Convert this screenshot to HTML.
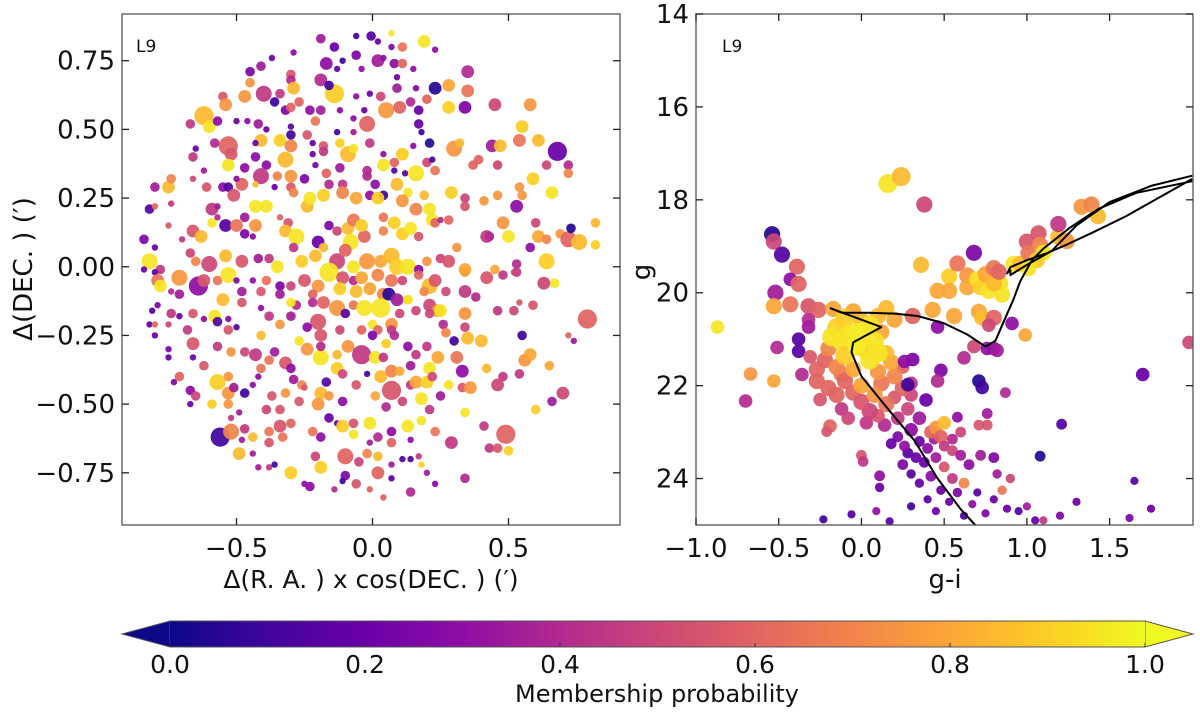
<!DOCTYPE html>
<html><head><meta charset="utf-8"><style>
html,body{margin:0;padding:0;background:#fff;}
svg{display:block;font-family:"DejaVu Sans","Liberation Sans",sans-serif;}
</style></head><body>
<svg id="fig" width="1200" height="713" viewBox="0 0 1200 713" xmlns="http://www.w3.org/2000/svg">
<defs>
<linearGradient id="plasma" x1="0" x2="1" y1="0" y2="0">
<stop offset="0" stop-color="#0d0887"/><stop offset="0.1" stop-color="#41049d"/><stop offset="0.2" stop-color="#6a00a8"/><stop offset="0.3" stop-color="#8f0da4"/><stop offset="0.4" stop-color="#b12a90"/><stop offset="0.5" stop-color="#cc4778"/><stop offset="0.6" stop-color="#e16462"/><stop offset="0.7" stop-color="#f2844b"/><stop offset="0.8" stop-color="#fca636"/><stop offset="0.9" stop-color="#fcce25"/><stop offset="1" stop-color="#f0f921"/>
</linearGradient>
<clipPath id="clipL"><rect x="122" y="14" width="498" height="511"/></clipPath>
<clipPath id="clipR"><rect x="696" y="14" width="497" height="511"/></clipPath>
</defs>
<g id="left"></g>
<g id="right"></g>
<g id="cbar"></g>
</svg>
<script>
const NS="http://www.w3.org/2000/svg";
const plasmaStops=["#0d0887","#41049d","#6a00a8","#8f0da4","#b12a90","#cc4778","#e16462","#f2844b","#fca636","#fcce25","#f0f921"];
function hex(c){return [parseInt(c.slice(1,3),16),parseInt(c.slice(3,5),16),parseInt(c.slice(5,7),16)];}
function cmap(p){p=Math.max(0,Math.min(1,p));const t=p*10,i=Math.min(9,Math.floor(t)),f=t-i;const a=hex(plasmaStops[i]),b=hex(plasmaStops[i+1]);return "rgb("+a.map((v,k)=>Math.round(v+(b[k]-v)*f)).join(",")+")";}
function mk(tag,attrs,parent){const e=document.createElementNS(NS,tag);for(const k in attrs)e.setAttribute(k,attrs[k]);parent.appendChild(e);return e;}

// ---------- data: left panel [dRA, dDEC, prob, size] ----------
const leftPts=[
[-0.06,0.84,.1,2],[-0.005,0.84,.15,3],[-0.19,0.83,.35,3],[0.02,0.82,.2,2],[0.07,0.85,.95,2],[0.19,0.82,.95,4],[-0.14,0.8,.2,3],[0.11,0.8,.65,3],[0.07,0.8,.25,2],[0.23,0.79,.3,2],
[-0.37,0.76,.2,2],[-0.29,0.78,.3,2],[-0.17,0.74,.3,4],[-0.11,0.75,.1,2],[-0.06,0.77,.25,3],[0.02,0.75,.35,4],[0.04,0.76,.3,2],[0.08,0.74,.3,3],[0.11,0.74,.6,3],[0.15,0.72,.3,2],[0.35,0.71,.4,4],[-0.45,0.71,.25,3],[-0.41,0.73,.35,3],[-0.13,0.72,.2,2],[-0.04,0.72,.3,2],
[-0.3,0.7,.55,3],[-0.3,0.68,.4,3],[-0.45,0.67,.75,3],[-0.4,0.63,.45,5],[-0.34,0.63,.45,3],[-0.29,0.65,.85,4],[-0.19,0.68,.4,4],[-0.14,0.63,.9,6],[-0.16,0.66,.1,3],[0.09,0.69,.2,2],[0.09,0.65,.35,3],[0.16,0.65,.25,2],[0.23,0.65,.05,4],[0.28,0.66,.8,4],[0.35,0.64,.65,4],[-0.47,0.62,.75,4],[0.03,0.62,.5,3],[-0.01,0.63,.2,2],[-0.06,0.62,.3,2],
[-0.55,0.62,.55,3],[-0.54,0.59,.75,4],[-0.36,0.6,.1,3],[-0.32,0.57,.25,3],[-0.3,0.58,.6,3],[-0.27,0.6,.6,3],[-0.23,0.57,.3,3],[-0.19,0.57,.35,3],[-0.12,0.57,.3,2],[-0.03,0.57,.2,2],[0.05,0.57,.75,5],[0.1,0.58,.6,4],[0.14,0.6,.4,3],[0.17,0.57,.2,3],[0.2,0.61,.6,3],[0.28,0.58,.9,4],[0.34,0.58,.25,4],[0.45,0.59,.5,4],[0.58,0.59,.75,4],[-0.62,0.55,.85,6],[-0.6,0.51,.95,4],
[-0.57,0.53,.3,3],[-0.5,0.53,.2,2],[-0.46,0.53,.3,2],[-0.42,0.52,.35,3],[-0.67,0.52,.45,3],[-0.21,0.53,.65,3],[-0.07,0.54,.3,2],[-0.02,0.52,.6,5],[0.17,0.52,.2,3],[0.18,0.49,.1,2],[-0.3,0.51,.15,2],[-0.39,0.5,.2,2],[-0.24,0.48,.55,3],[-0.3,0.48,.1,3],[-0.13,0.49,.1,2],[-0.07,0.49,.35,2],[0.55,0.51,.9,4],[0.54,0.46,.65,4],[0.61,0.46,.85,4],[0.68,0.42,.2,6],[-0.41,0.46,.85,4],[-0.34,0.46,.9,4],[-0.53,0.44,.6,6],[-0.58,0.45,.4,3],[-0.43,0.45,.2,2],[-0.3,0.44,.7,4],[-0.22,0.45,.2,2],[-0.18,0.44,.55,3],[-0.12,0.45,.9,3],[-0.01,0.45,.45,3],[0.15,0.44,.3,2],[0.21,0.45,.05,3],[0.3,0.43,.75,5],[0.32,0.45,.85,3],[0.44,0.44,.35,4],[0.47,0.44,.85,4],
[-0.65,0.43,.2,2],[-0.52,0.41,.55,4],[-0.43,0.4,.3,3],[-0.32,0.39,.85,5],[-0.22,0.41,.2,2],[-0.18,0.42,.45,3],[-0.09,0.41,.85,5],[-0.07,0.43,.95,3],[0.04,0.41,.3,2],[0.11,0.41,.9,4],[0.08,0.38,.6,3],[0.04,0.37,.95,4],[0.2,0.38,.5,3],[0.22,0.39,.1,2],[0.37,0.37,.6,3],[0.39,0.39,.6,3],[0.46,0.37,.5,3],[0.64,0.37,.5,3],[0.72,0.37,.4,3],[0.72,0.34,.7,3],[-0.66,0.4,.45,3],[-0.53,0.37,.95,4],[-0.62,0.35,.35,2],[-0.47,0.36,.3,3],[-0.39,0.37,.3,3],[-0.21,0.37,.25,2],[-0.17,0.34,.6,3],[-0.12,0.36,.35,3],[-0.02,0.35,.4,3],[0.08,0.35,.15,2],[0.12,0.34,.15,2],[0.16,0.34,.95,5],[0.23,0.35,.65,3],[-0.41,0.33,.45,5],[-0.35,0.33,.7,3],[-0.3,0.33,.75,4],[-0.25,0.32,.25,3],
[-0.8,0.29,.35,3],[-0.75,0.29,.85,4],[-0.74,0.32,.7,3],[-0.66,0.32,.5,2],[-0.61,0.29,.55,3],[-0.55,0.29,.3,3],[-0.53,0.29,.15,3],[-0.48,0.3,.6,4],[-0.5,0.32,.3,2],[-0.43,0.3,.85,2],[-0.36,0.29,.2,2],[-0.3,0.29,.55,3],[-0.16,0.3,.4,3],[-0.11,0.3,.45,3],[-0.02,0.33,.4,3],[0.01,0.3,.3,3],[0.09,0.3,.85,4],[0.04,0.26,.1,3],[0.13,0.27,.95,3],[0.19,0.26,.85,3],[0.29,0.27,.9,4],[0.34,0.25,.5,3],[0.41,0.24,.75,3],[0.46,0.26,.75,3],[0.54,0.29,.75,3],[0.55,0.26,.75,3],[0.59,0.32,.9,4],[0.66,0.27,.95,4],[0.53,0.22,.3,4],[-0.82,0.21,.15,3],[-0.8,0.22,.6,2],[-0.74,0.23,.45,2],[-0.59,0.21,.45,4],[-0.51,0.26,.55,4],[-0.43,0.22,.95,4],[-0.39,0.22,.95,4],[-0.29,0.27,.7,3],[-0.24,0.22,.85,4],[-0.23,0.25,.95,4],[-0.18,0.26,.9,4],[-0.11,0.27,.7,4],[-0.06,0.25,.8,4],[-0.01,0.26,.3,3],[0.02,0.25,.9,4],[0.11,0.24,.75,4],[0.16,0.21,.7,4],[0.21,0.21,.95,4],
[-0.57,0.22,.35,2],[-0.75,0.15,.55,2],[-0.7,0.1,.45,2],[-0.66,0.13,.55,4],[-0.63,0.11,.85,4],[-0.59,0.16,.95,3],[-0.57,0.18,.4,2],[-0.54,0.15,.15,4],[-0.5,0.15,.65,4],[-0.47,0.18,.35,3],[-0.47,0.12,.25,3],[-0.43,0.15,.75,4],[-0.44,0.11,.3,2],[-0.34,0.18,.6,2],[-0.31,0.16,.55,3],[-0.32,0.13,.85,4],[-0.28,0.11,.95,5],[-0.2,0.09,.2,4],[-0.16,0.15,.25,3],[-0.13,0.13,.5,3],[-0.09,0.14,.85,4],[-0.07,0.17,.65,4],[-0.08,0.09,.95,5],[-0.03,0.11,.6,4],[-0.04,0.15,.9,4],[0.04,0.18,.65,3],[0.04,0.13,.7,3],[0.08,0.16,.9,4],[0.11,0.12,.9,4],[0.14,0.14,.95,4],[0.17,0.11,.55,3],[0.22,0.17,.95,4],[0.23,0.16,.6,3],[0.25,0.17,.4,2],[0.28,0.17,.6,3],[0.34,0.22,.55,3],[0.42,0.11,.45,4],[0.48,0.16,.75,4],[0.5,0.11,.95,4],[0.6,0.16,.5,3],[0.61,0.11,.8,4],[0.64,0.1,.7,3],[0.69,0.12,.75,3],[0.72,0.1,.6,5],[0.76,0.09,.85,5],[0.73,0.14,.05,3],[0.82,0.16,.85,3],[0.82,0.08,.9,3],
[-0.84,0.1,.25,3],[-0.8,0.07,.2,2],[-0.82,0.02,.95,5],[-0.78,-0.01,.45,3],[-0.67,0.05,.5,3],[-0.65,0.02,.7,3],[-0.6,0.01,.5,5],[-0.54,0.04,.85,4],[-0.48,0.02,.55,4],[-0.42,0.03,.35,3],[-0.38,0.03,.45,3],[-0.35,0.0,.95,4],[-0.29,0.07,.45,3],[-0.26,0.02,.9,4],[-0.21,0.04,.85,4],[-0.18,0.07,.85,3],[-0.13,0.02,.5,5],[-0.1,0.06,.6,4],[-0.07,0.0,.95,4],[-0.02,0.02,.75,5],[0.03,0.02,.8,4],[0.07,0.04,.85,5],[0.09,0.0,.9,5],[0.13,0.0,.95,5],[0.17,-0.01,.3,3],[0.2,0.02,.75,3],[0.25,0.03,.5,3],[0.28,0.02,.55,4],[0.31,0.07,.75,3],[0.34,-0.02,.75,3],[0.45,-0.01,.8,3],[0.42,-0.04,.55,4],[0.48,-0.03,.45,3],[0.53,0.01,.4,3],[0.64,0.02,.9,5],[0.53,-0.02,.45,3],[0.67,-0.06,.95,3],[0.63,-0.06,.5,4],[0.58,0.07,.3,3],[0.43,0.11,.4,3],
[-0.84,-0.01,.2,2],[-0.8,-0.02,.15,2],[-0.79,-0.05,.65,4],[-0.78,-0.07,.95,4],[-0.71,-0.04,.75,5],[-0.74,-0.09,.4,2],[-0.64,-0.07,.3,6],[-0.62,-0.05,.55,4],[-0.57,-0.05,.65,3],[-0.53,-0.03,.95,5],[-0.5,-0.05,.25,2],[-0.44,-0.05,.3,2],[-0.39,-0.05,.65,3],[-0.34,-0.07,.25,3],[-0.3,-0.07,.5,3],[-0.25,-0.05,.55,4],[-0.2,-0.07,.75,4],[-0.16,-0.02,.95,6],[-0.11,-0.04,.55,4],[-0.07,-0.05,.4,3],[-0.04,-0.04,.8,4],[0.02,-0.03,.7,4],[0.07,-0.05,.65,4],[0.11,-0.05,.5,3],[0.17,-0.03,.6,3],[0.21,-0.07,.85,5],[0.23,-0.05,.55,4],[0.27,-0.09,.5,3],[0.34,-0.01,.8,4],[0.34,-0.09,.45,4],[0.38,-0.11,.4,3],[0.52,-0.02,.5,2],[-0.71,-0.1,.35,3],[-0.55,-0.12,.85,4],[-0.48,-0.09,.35,3],[-0.41,-0.09,.55,3],[-0.34,-0.1,.35,3],[-0.22,-0.1,.6,3],[-0.12,-0.08,.9,4],[-0.06,-0.09,.85,4],[-0.01,-0.08,.8,4],[0.04,-0.1,.7,4],[0.06,-0.1,.05,4],[0.09,-0.12,.35,4],[0.13,-0.12,.8,3],[0.19,-0.09,.7,3],
[-0.81,-0.16,.15,2],[-0.79,-0.14,.25,2],[-0.82,-0.21,.15,2],[-0.8,-0.21,.6,2],[-0.75,-0.21,.5,2],[-0.74,-0.17,.45,3],[-0.71,-0.18,.2,2],[-0.68,-0.23,.45,3],[-0.66,-0.17,.55,3],[-0.62,-0.19,.3,2],[-0.58,-0.18,.95,4],[-0.57,-0.2,.15,3],[-0.53,-0.19,.3,2],[-0.5,-0.22,.15,2],[-0.53,-0.23,.55,3],[-0.48,-0.13,.55,3],[-0.41,-0.15,.3,2],[-0.41,-0.25,.85,3],[-0.38,-0.18,.45,3],[-0.34,-0.21,.75,3],[-0.3,-0.18,.35,3],[-0.28,-0.14,.4,3],[-0.3,-0.13,.95,3],[-0.22,-0.13,.4,3],[-0.2,-0.2,.55,5],[-0.18,-0.13,.6,4],[-0.13,-0.15,.75,5],[-0.1,-0.17,.15,3],[-0.07,-0.14,.65,3],[-0.03,-0.15,.95,5],[0.03,-0.15,.95,6],[0.0,-0.21,.95,3],[0.07,-0.21,.75,4],[0.1,-0.17,.5,3],[0.13,-0.12,.95,3],[0.16,-0.16,.5,3],[0.21,-0.14,.5,4],[0.24,-0.16,.75,4],[0.25,-0.16,.95,4],[0.21,-0.17,.5,3],[0.26,-0.21,.4,3],[0.27,-0.24,.7,3],[0.34,-0.17,.75,4],[0.34,-0.22,.5,3],[0.46,-0.16,.45,3],[0.52,-0.16,.5,3],[0.54,-0.13,.55,2],[0.59,-0.14,.55,3],[0.79,-0.19,.6,6],[0.72,-0.25,.6,2],[0.74,-0.27,.35,2],[0.55,-0.25,.1,3],[0.07,-0.23,.45,3],[0.08,-0.25,.4,3],[0.02,-0.23,.6,3],[-0.04,-0.23,.6,3],[0.0,-0.25,.25,3],[-0.12,-0.23,.5,3],[-0.19,-0.25,.55,4],[-0.27,-0.27,.95,3],[-0.24,-0.22,.3,3],
[-0.8,-0.25,.2,2],[-0.75,-0.3,.25,2],[-0.75,-0.33,.2,2],[-0.66,-0.28,.55,4],[-0.66,-0.33,.2,2],[-0.62,-0.36,.55,3],[-0.57,-0.29,.45,3],[-0.52,-0.31,.75,3],[-0.47,-0.31,.5,3],[-0.43,-0.32,.45,4],[-0.41,-0.37,.65,3],[-0.38,-0.34,.65,3],[-0.36,-0.31,.35,3],[-0.32,-0.35,.55,4],[-0.3,-0.37,.3,3],[-0.24,-0.3,.75,4],[-0.19,-0.33,.95,5],[-0.19,-0.29,.4,3],[-0.13,-0.32,.85,3],[-0.09,-0.29,.75,4],[-0.04,-0.32,.45,6],[0.01,-0.33,.95,4],[0.04,-0.33,.45,3],[0.05,-0.28,.9,3],[0.13,-0.29,.3,3],[0.16,-0.32,.45,3],[0.2,-0.29,.45,3],[0.21,-0.37,.95,4],[0.24,-0.33,.8,4],[0.3,-0.27,.1,3],[0.31,-0.33,.65,4],[0.33,-0.38,.3,4],[0.35,-0.26,.85,4],[0.4,-0.27,.85,4],[0.42,-0.37,.85,3],[0.56,-0.34,.75,4],[0.58,-0.32,.8,4],[0.65,-0.36,.8,3],[0.48,-0.4,.45,3],[0.54,-0.39,.45,3],[-0.13,-0.37,.9,4],[-0.11,-0.39,.5,3],[-0.02,-0.39,.1,2],[0.03,-0.4,.85,4],[0.07,-0.38,.7,4],[0.1,-0.38,.8,3],[0.14,-0.36,.35,3],
[-0.71,-0.4,.6,3],[-0.73,-0.42,.25,2],[-0.67,-0.45,.3,3],[-0.65,-0.47,.5,3],[-0.57,-0.42,.9,5],[-0.53,-0.4,.75,3],[-0.53,-0.46,.75,4],[-0.51,-0.44,.35,3],[-0.47,-0.46,.1,3],[-0.44,-0.43,.3,2],[-0.42,-0.4,.3,2],[-0.37,-0.47,.55,3],[-0.32,-0.46,.75,3],[-0.29,-0.41,.35,3],[-0.26,-0.43,.7,3],[-0.25,-0.44,.55,2],[-0.19,-0.46,.85,4],[-0.17,-0.42,.15,3],[-0.16,-0.47,.75,3],[-0.06,-0.43,.55,3],[0.01,-0.47,.8,3],[0.07,-0.45,.55,6],[0.14,-0.43,.45,3],[0.16,-0.42,.8,4],[0.2,-0.42,.9,4],[0.22,-0.4,.5,3],[0.18,-0.48,.95,4],[0.25,-0.47,.35,3],[0.28,-0.43,.95,3],[0.33,-0.44,.55,3],[0.36,-0.44,.75,4],[0.46,-0.43,.5,4],[0.7,-0.46,.5,4],[0.66,-0.49,.35,3],[0.6,-0.52,.9,3],[0.34,-0.53,.95,3],[0.21,-0.52,.45,3],[0.11,-0.49,.5,3],[0.05,-0.51,.4,3],[-0.11,-0.49,.3,3],[-0.2,-0.5,.75,4],[-0.27,-0.49,.55,3],[-0.59,-0.5,.9,3],[-0.53,-0.5,.75,3],[-0.39,-0.52,.5,3],[-0.34,-0.52,.55,3],[-0.49,-0.53,.35,2],[-0.67,-0.5,.2,2],
[-0.56,-0.62,.1,6],[-0.52,-0.6,.7,5],[-0.52,-0.55,.45,2],[-0.47,-0.59,.45,3],[-0.48,-0.63,.35,2],[-0.44,-0.62,.85,3],[-0.38,-0.64,.55,3],[-0.38,-0.6,.65,3],[-0.34,-0.58,.55,4],[-0.33,-0.62,.65,3],[-0.3,-0.57,.6,3],[-0.22,-0.6,.65,3],[-0.19,-0.62,.3,3],[-0.16,-0.55,.2,3],[-0.13,-0.57,.2,2],[-0.11,-0.58,.9,4],[-0.07,-0.57,.55,3],[-0.07,-0.61,.95,3],[-0.01,-0.57,.95,4],[0.07,-0.6,.3,3],[0.07,-0.64,.6,3],[0.13,-0.58,.95,4],[0.14,-0.63,.3,2],[0.18,-0.56,.95,3],[0.23,-0.6,.65,3],[0.29,-0.64,.45,4],[0.41,-0.58,.45,3],[0.49,-0.61,.6,6],[0.43,-0.66,.45,3],[0.46,-0.66,.55,3],[0.5,-0.67,.9,3],[0.02,-0.62,.4,3],[-0.01,-0.64,.35,2],[-0.02,-0.68,.7,3],
[-0.49,-0.68,.85,4],[-0.44,-0.68,.35,2],[-0.42,-0.73,.35,2],[-0.38,-0.73,.45,2],[-0.36,-0.72,.1,2],[-0.3,-0.75,.9,4],[-0.21,-0.69,.5,3],[-0.19,-0.73,.9,4],[-0.1,-0.69,.6,5],[-0.05,-0.71,.5,3],[-0.1,-0.76,.25,3],[-0.06,-0.79,.55,3],[0.02,-0.75,.6,4],[0.02,-0.69,.85,3],[0.07,-0.72,.35,2],[0.07,-0.77,.15,2],[0.11,-0.7,.15,2],[0.14,-0.7,.15,2],[0.17,-0.69,.45,2],[0.18,-0.72,.9,2],[0.2,-0.75,.35,2],[0.23,-0.79,.3,2],[0.34,-0.77,.4,3],[-0.25,-0.79,.3,2],[-0.23,-0.8,.3,3],[-0.14,-0.81,.4,2],[-0.01,-0.81,.6,2],[0.04,-0.84,.6,2],[0.14,-0.82,.4,3],[-0.11,-0.78,.1,2]
];
const leftXTicks=[-0.5,0.0,0.5];
const leftXTickLabels=["\u22120.5","0.0","0.5"];
const leftYTicks=[0.75,0.5,0.25,0,-0.25,-0.5,-0.75];
const leftYTickLabels=["0.75","0.50","0.25","0.00","\u22120.25","\u22120.50","\u22120.75"];

// ---------- data: right panel [g-i, g, prob, size] ----------
const rightPts=[
[0.16,17.65,.95,7],[0.24,17.5,.85,7],[0.38,18.1,.5,6],[-0.54,18.74,.05,6],[-0.53,18.9,.5,6],[-0.48,19.18,.15,6],[-0.39,19.44,.6,6],[-0.43,19.71,.3,5],[-0.38,19.81,.6,6],[-0.52,20.0,.35,6],[-0.53,20.29,.8,6],[-0.43,20.25,.65,6],[-0.87,20.74,.95,5],[-0.51,21.18,.4,5],[-0.38,21.0,.15,5],[-0.38,21.26,.15,5],[-0.36,21.76,.4,5],[-0.67,21.75,.75,5],[-0.53,21.9,.8,5],[-0.70,22.33,.4,5],[-0.32,20.29,.55,6],[-0.26,20.37,.6,6],[-0.32,20.58,.4,5],[-0.32,20.74,.35,5],[-0.31,21.38,.55,5],[-0.27,21.65,.6,6],[-0.27,21.9,.6,6],[-0.19,22.87,.6,5],[-0.21,22.99,.55,4],[0.0,23.5,.55,4],[0.01,23.63,.45,4],[0.11,23.94,.3,4],[0.11,24.19,.2,3.5],[-0.06,24.77,.15,3],[-0.23,24.88,.1,3],[0.17,24.92,.15,3],[0.09,24.7,.3,3],
[0.28,23.45,.15,4],[0.35,23.2,.2,4],[0.4,23.35,.3,4],[0.3,23.9,.15,3.5],[0.38,23.65,.2,4],[0.35,24.1,.2,3.5],[0.48,24.25,.2,3.5],[0.58,24.3,.25,3.5],[0.7,24.3,.15,3],[0.4,24.45,.15,3],[0.53,24.5,.2,3],[0.67,24.55,.3,3],[0.8,24.45,.2,3],[0.3,24.6,.1,3],[0.45,24.7,.2,3],[0.62,24.8,.15,3],[0.75,24.75,.25,3],[0.88,24.65,.2,3],[0.95,24.7,.15,3],[1.0,24.6,.35,3],[1.05,24.9,.2,3],[1.2,24.8,.25,3],[1.3,24.5,.2,3],[1.65,24.05,.15,3],[1.75,24.65,.2,3],[1.62,24.85,.25,3],[1.1,24.9,.45,3],[0.85,24.25,.65,3.5],[0.82,23.9,.35,3.5],[0.9,24.0,.5,3.5],[0.8,23.55,.25,4],[0.72,23.5,.35,4],
[0.22,23.1,.25,4],[0.18,23.25,.2,4],[0.26,23.3,.3,4],[0.33,23.55,.2,4],[0.25,23.7,.25,4],[0.44,23.15,.35,4],[0.55,23.15,.4,4],[0.6,23.0,.5,4],
[-0.25,22.3,.55,5],[-0.2,22.05,.6,6],[-0.12,22.5,.45,5],[0.2,22.25,.55,5],[0.3,22.2,.5,5],[0.28,22.5,.5,5],[0.22,22.7,.45,5],[0.35,22.7,.35,5],[0.14,22.85,.4,5],[0.3,22.95,.3,5],[0.42,23.0,.6,5],[0.45,22.9,.75,5],[0.5,22.8,.85,5],[0.48,23.1,.6,5],[0.5,23.3,.45,4],[0.55,23.4,.5,4],[0.45,23.55,.35,4],[0.6,23.5,.35,4],[0.5,23.75,.55,4],[0.65,23.7,.3,4],[0.42,23.95,.3,4],[0.55,24.0,.45,4],[0.62,24.1,.7,4],
[-0.08,22.7,.5,5],[0.03,22.8,.45,5],[0.1,22.65,.55,5],[-0.15,22.2,.6,6],[0.25,21.6,.6,5],[0.3,21.95,.45,5],[-0.22,21.45,.6,6],[-0.12,21.75,.65,6],
[0.05,22.55,.5,6],[0.25,22.05,.6,6],[0.12,21.95,.65,6],[-0.05,22.15,.6,6],[0.0,22.35,.55,6],[0.15,22.4,.65,6],[0.08,22.2,.75,6],[-0.1,21.9,.6,6],[0.2,21.8,.7,6],[0.1,21.7,.75,6],[0.0,22.0,.8,6],[-0.15,21.6,.7,6],[-0.05,21.65,.8,6],[0.18,21.5,.8,6],[-0.2,21.2,.7,6],[0.15,21.3,.85,6],[-0.17,20.35,.8,6],[-0.05,20.4,.8,6],[0.1,20.5,.85,6],[0.12,20.85,.8,6],[0.0,20.6,.85,6],[-0.1,20.55,.9,7],[-0.15,20.75,.9,7],[-0.08,20.9,.95,7],[0.05,20.7,.95,7],[-0.12,21.05,.95,7],[0.02,21.2,.9,7],[0.08,21.05,.95,7],[-0.1,21.35,.9,7],[0.05,21.45,.95,7],[-0.03,21.15,.97,7],[-0.18,20.95,.95,7],[0.1,21.3,.95,7],[-0.02,20.85,.97,7],
[0.15,20.33,.85,6],[0.2,20.58,.8,6],[0.31,20.5,.6,6],[0.43,20.37,.8,6],[0.46,20.74,.3,5],[0.36,19.4,.85,6],[0.53,19.65,.9,6],[0.58,19.37,.65,6],[0.46,19.96,.8,6],[0.53,19.96,.8,6],[0.56,20.5,.8,6],[0.64,19.63,.75,6],[0.64,19.88,.8,6],[0.7,19.71,.95,6],[0.72,19.88,.9,6],[0.75,19.6,.8,6],[0.77,19.96,.95,6],[0.8,19.47,.65,6],[0.84,19.8,.95,6],[0.85,20.04,.95,6],[0.8,19.8,.85,6],[0.71,20.41,.8,6],[0.73,20.54,.85,6],[0.8,20.54,.6,6],[0.77,20.7,.5,5],[0.91,20.66,.3,5],[0.68,19.14,.25,6],[0.83,19.55,.6,6],[0.99,20.91,.8,5],[0.62,21.4,.4,5],[0.68,21.16,.5,5],[0.76,21.2,.3,5],[0.8,21.2,.3,5],[0.82,21.24,.35,5],[0.92,19.38,.95,6],[0.96,19.38,.85,6],[1.0,18.9,.55,6],[1.01,19.14,.65,6],[1.07,18.72,.55,6],[1.08,18.97,.7,6],[1.1,19.14,.95,6],[1.06,19.3,.9,6],[1.01,19.47,.95,6],[1.19,18.8,.85,6],[1.19,18.52,.45,6],[1.24,18.89,.75,6],[1.33,18.15,.75,6],[1.39,18.1,.7,6],[1.43,18.35,.85,6],[1.98,21.07,.5,5],[1.7,21.76,.2,5],[1.21,22.83,.15,4],[1.08,23.52,.05,4],
[0.71,21.9,.05,5],[0.73,22.04,.1,5],[0.87,22.15,.4,4],[0.48,21.67,.25,5],[0.46,21.9,.4,5],[0.28,21.98,.1,5],[0.31,21.44,.25,5],[0.26,21.48,.3,5],[0.39,22.31,.2,5],[0.58,22.68,.3,4],[0.76,22.6,.35,4],[0.71,22.85,.55,4],[0.76,22.85,.55,4]
];
const rgbLine=[[-0.19,20.33],[-0.12,20.43],[0.04,20.43],[0.2,20.45],[0.34,20.5],[0.5,20.66],[0.64,20.9],[0.75,21.16],[0.81,21.03],[0.87,20.54],[0.92,20.13],[0.96,19.75],[1.03,19.3],[1.1,19.05],[1.26,18.6],[1.43,18.2],[1.66,17.85],[2.0,17.6]];
const msLine=[[-0.19,20.33],[0.12,20.74],[-0.05,21.07],[-0.06,21.28],[0.0,21.8],[0.16,22.5],[0.32,23.18],[0.46,24.0],[0.6,24.66],[0.7,25.05]];
const agbLine=[[0.88,19.6],[0.9,19.45],[1.0,19.3],[1.12,19.15],[1.25,18.95],[1.4,18.7],[1.6,18.35],[1.8,17.95],[2.0,17.55]];
const hbLine=[[0.9,19.5],[0.9,19.62],[1.0,19.4],[1.15,19.1],[1.3,18.55],[1.5,18.05],[1.75,17.7],[2.0,17.48]];
const rightXTicks=[-1.0,-0.5,0.0,0.5,1.0,1.5];
const rightXTickLabels=["\u22121.0","\u22120.5","0.0","0.5","1.0","1.5"];
const rightYTicks=[14,16,18,20,22,24];
const rightYTickLabels=["14","16","18","20","22","24"];
const cbarTicks=[0,0.2,0.4,0.6,0.8,1.0];
const cbarTickLabels=["0.0","0.2","0.4","0.6","0.8","1.0"];

// ---------- axes ----------
const L={x0:122,x1:620,y0:14,y1:525,xmin:-0.921,xmax:0.91,ymin:-0.94,ymax:0.92};
const R={x0:696,x1:1193,y0:14,y1:525,xmin:-1.0,xmax:2.004,ymin:25,ymax:14};
function sx(A,v){return A.x0+(v-A.xmin)/(A.xmax-A.xmin)*(A.x1-A.x0);}
function sy(A,v){return A.y1-(v-A.ymin)/(A.ymax-A.ymin)*(A.y1-A.y0);}

function drawAxes(A,g,xt,xl,yt,yl,name){
  const frame=mk('rect',{x:A.x0,y:A.y0,width:A.x1-A.x0,height:A.y1-A.y0,fill:'none',stroke:'#555','stroke-width':1.3},g);
  
  
  xt.forEach((v,i)=>{const x=sx(A,v);
    mk('line',{x1:x,x2:x,y1:A.y1,y2:A.y1-7,stroke:'#222','stroke-width':1.3},g);
    mk('line',{x1:x,x2:x,y1:A.y0,y2:A.y0+7,stroke:'#222','stroke-width':1.3},g);
    const t=mk('text',{x:x,y:557,'text-anchor':'middle','font-size':26,fill:'#111'},g);t.textContent=xl[i];
    
    });
  yt.forEach((v,i)=>{const y=sy(A,v);
    mk('line',{x1:A.x0,x2:A.x0+7,y1:y,y2:y,stroke:'#222','stroke-width':1.3},g);
    mk('line',{x1:A.x1,x2:A.x1-7,y1:y,y2:y,stroke:'#222','stroke-width':1.3},g);
    const t=mk('text',{x:A.x0-7,y:y+9,'text-anchor':'end','font-size':26,fill:'#111'},g);t.textContent=yl[i];
    
    });
}
function drawPts(A,g,pts,scale,clip,name){
  const pg=mk('g',{'clip-path':'url(#'+clip+')'},g);
  
  
  pts.forEach(p=>{const c=mk('circle',{cx:sx(A,p[0]).toFixed(1),cy:sy(A,p[1]).toFixed(1),r:(p[3]*scale).toFixed(1),fill:cmap(p[2]),'fill-opacity':0.93},pg);
    
    });
}
function drawLine(A,g,arr,clip){
  const d=arr.map((p,i)=>(i?'L':'M')+sx(A,p[0]).toFixed(1)+','+sy(A,p[1]).toFixed(1)).join(' ');
  const e=mk('path',{d:d,fill:'none',stroke:'#000','stroke-width':2,'stroke-linejoin':'round','clip-path':'url(#'+clip+')'},g);
  
  
}

const gl=document.getElementById('left');
drawPts(L,gl,leftPts,1.6,'clipL','position-scatter');
drawAxes(L,gl,leftXTicks,leftXTickLabels,leftYTicks,leftYTickLabels,'left');
let t=mk('text',{x:136,y:52,'font-size':17,fill:'#111'},gl);t.textContent='L9';


t=mk('text',{x:371,y:588,'text-anchor':'middle','font-size':25,fill:'#111'},gl);t.textContent='\u0394(R. A. ) x cos(DEC. ) (\u2032)';


t=mk('text',{x:0,y:0,'text-anchor':'middle','font-size':26,fill:'#111',transform:'translate(32,269) rotate(-90)'},gl);t.textContent='\u0394(DEC. ) (\u2032)';



const gr=document.getElementById('right');
drawPts(R,gr,rightPts,1.35,'clipR','cmd-scatter');
drawLine(R,gr,rgbLine,'clipR');
drawLine(R,gr,msLine,'clipR');
drawLine(R,gr,agbLine,'clipR');
drawLine(R,gr,hbLine,'clipR');
drawAxes(R,gr,rightXTicks,rightXTickLabels,rightYTicks,rightYTickLabels,'right');
t=mk('text',{x:722,y:52,'font-size':17,fill:'#111'},gr);t.textContent='L9';


t=mk('text',{x:945,y:588,'text-anchor':'middle','font-size':26,fill:'#111'},gr);t.textContent='g-i';


t=mk('text',{x:0,y:0,'text-anchor':'middle','font-size':26,fill:'#111',transform:'translate(650,272) rotate(-90)'},gr);t.textContent='g';



// colorbar
const gc=document.getElementById('cbar');
const cb={x0:170,x1:1145,y0:621,y1:647};
let e=mk('polygon',{points:`122,634 ${cb.x0},${cb.y0} ${cb.x0},${cb.y1}`,fill:'#0d0887',stroke:'#555','stroke-width':1},gc);


e=mk('polygon',{points:`1193,634 ${cb.x1},${cb.y0} ${cb.x1},${cb.y1}`,fill:'#f0f921',stroke:'#555','stroke-width':1},gc);


e=mk('rect',{x:cb.x0,y:cb.y0,width:cb.x1-cb.x0,height:cb.y1-cb.y0,fill:'url(#plasma)'},gc);


mk('line',{x1:cb.x0,x2:cb.x1,y1:cb.y0,y2:cb.y0,stroke:'#555','stroke-width':1},gc);
mk('line',{x1:cb.x0,x2:cb.x1,y1:cb.y1,y2:cb.y1,stroke:'#555','stroke-width':1},gc);
cbarTicks.forEach((v,i)=>{const x=cb.x0+v*(cb.x1-cb.x0);
  mk('line',{x1:x,x2:x,y1:cb.y1,y2:cb.y1-4,stroke:'#333','stroke-width':1},gc);
  const tt=mk('text',{x:x,y:673,'text-anchor':'middle','font-size':25,fill:'#111'},gc);tt.textContent=cbarTickLabels[i];
  
  });
t=mk('text',{x:657,y:702,'text-anchor':'middle','font-size':24,fill:'#111'},gc);t.textContent='Membership probability';


</script>
</body></html>
